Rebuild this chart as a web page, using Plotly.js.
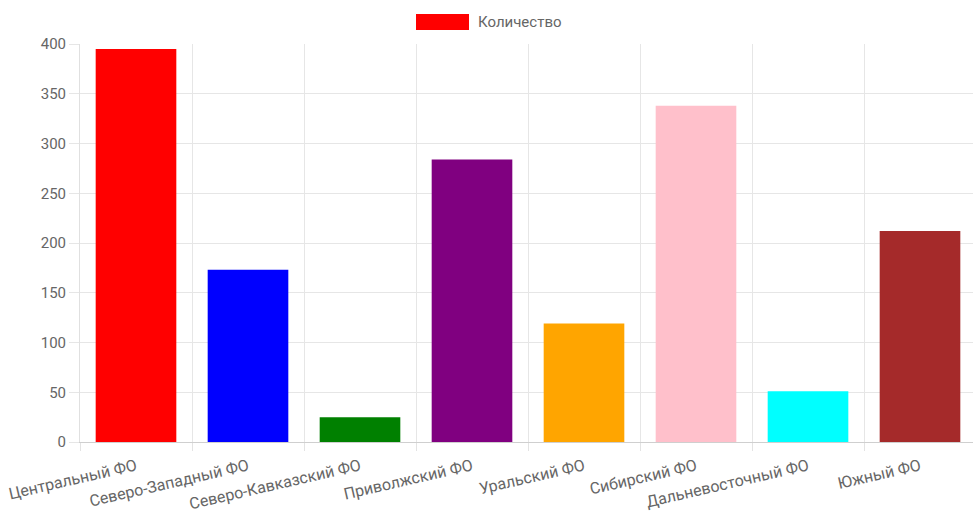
<!DOCTYPE html>
<html>
<head>
<meta charset="utf-8">
<script src="https://cdn.plot.ly/plotly-3.0.1.min.js"></script>
<style>html,body{margin:0;padding:0;background:#fff;overflow:hidden;}#chart{width:977px;height:516px;}</style>
</head>
<body>
<div id="chart"></div>
<script>
const categories = ["Центральный ФО", "Северо-Западный ФО", "Северо-Кавказский ФО", "Приволжский ФО", "Уральский ФО", "Сибирский ФО", "Дальневосточный ФО", "Южный ФО"];
const values = [395, 173, 25, 284, 119, 338, 51, 212];
const barColors = ["red", "blue", "green", "purple", "orange", "pink", "cyan", "brown"];
const seriesName = "Количество";

const trace = {
  type: "bar",
  x: categories,
  y: values,
  name: seriesName,
  marker: {color: barColors, line: {width: 0}},
  showlegend: false,
  hoverinfo: "x+y"
};

const W = 977, L = 80, R = 1, T = 44, B = 74;
const PW = W - L - R, PH = 516 - T - B;

const layout = {
  width: W, height: 516,
  margin: {l: L, r: R, t: T, b: B},
  paper_bgcolor: "#fff", plot_bgcolor: "#fff",
  font: {family: "Roboto, 'Liberation Sans', Arial, sans-serif", color: "#666", size: 14},
  bargap: 0.28,
  xaxis: {
    type: "category",
    range: [-0.5, 7.5],
    tickson: "boundaries",
    ticks: "outside", ticklen: 8, tickcolor: "#e3e3e3",
    showgrid: true, gridcolor: "#e6e6e6",
    showline: true, linecolor: "#cfcfcf",
    tickangle: -13,
    ticklabelstandoff: 8,
    tickfont: {size: 16, color: "#666"},
    automargin: false
  },
  yaxis: {
    range: [0, 400], dtick: 50,
    ticks: "outside", ticklen: 10, tickcolor: "#e6e6e6",
    showgrid: true, gridcolor: "#e6e6e6",
    zeroline: false,
    showline: true, linecolor: "#e0e0e0",
    tickfont: {size: 15, color: "#666"},
    automargin: false
  },
  shapes: [{
    type: "rect", xref: "paper", yref: "paper",
    x0: (416 - L) / PW, x1: (469 - L) / PW,
    y0: (442 - 30) / PH, y1: (442 - 14) / PH,
    fillcolor: barColors[0], line: {width: 0}
  }],
  annotations: [{
    xref: "paper", yref: "paper",
    x: (476 - L) / PW, y: (442 - 22) / PH,
    xanchor: "left", yanchor: "middle",
    text: seriesName, showarrow: false,
    font: {size: 15, color: "#666"}
  }]
};

Plotly.newPlot("chart", [trace], layout, {displayModeBar: false, staticPlot: true});
</script>
</body>
</html>
